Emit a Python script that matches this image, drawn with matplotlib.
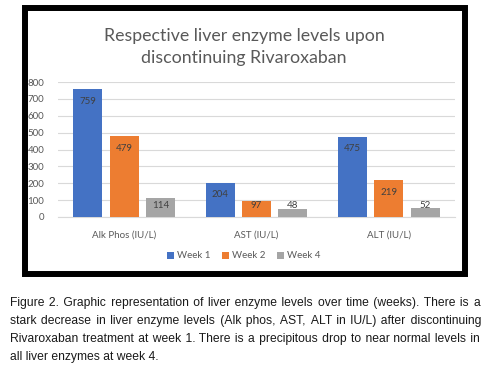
import matplotlib
matplotlib.use('Agg')
import matplotlib.pyplot as plt
import numpy as np
from matplotlib.patches import Rectangle

# data
categories = ['Alk Phos (IU/L)', 'AST (IU/L)', 'ALT (IU/L)']
series_names = ['Week 1', 'Week 2', 'Week 4']
week1 = [759, 204, 475]
week2 = [479, 97, 219]
week4 = [114, 48, 52]
yticks = [0, 100, 200, 300, 400, 500, 600, 700, 800]
colors = ['#4472C4', '#ED7D31', '#A5A5A5']

title = 'Respective liver enzyme levels upon\ndiscontinuing Rivaroxaban'
caption_lines = [
    'Figure 2. Graphic representation of liver enzyme levels over time (weeks). There is a',
    'stark decrease in liver enzyme levels (Alk phos, AST, ALT in IU/L) after discontinuing',
    'Rivaroxaban treatment at week 1. There is a precipitous drop to near normal levels in',
    'all liver enzymes at week 4.',
]

W, H = 489, 378
fig = plt.figure(figsize=(W / 100, H / 100), dpi=100)
font = ['Lato', 'DejaVu Sans']
cap_font = ['Liberation Sans Narrow', 'Liberation Sans', 'DejaVu Sans']
gray_txt = '#595959'

ax = fig.add_axes([58 / W, 1 - 217 / H, (455 - 58) / W, (217 - 82) / H])
x = np.arange(len(categories))
bw = 0.22
gap = 0.055
for i, (vals, name) in enumerate(zip([week1, week2, week4], series_names)):
    pos = x + (i - 1) * (bw + gap)
    ax.bar(pos, vals, bw, color=colors[i], label=name, zorder=3)
    for p, v in zip(pos, vals):
        ax.text(p, max(v - 72, 71), str(v), ha='center', va='center',
                fontsize=7, color='#404040', family=font, zorder=4)

ax.set_ylim(0, 800)
ax.set_xlim(-0.5, 2.5)
ax.set_yticks(yticks)
ax.set_yticklabels([str(t) for t in yticks], fontsize=7, color=gray_txt, family=font)
ax.set_xticks(x)
ax.set_xticklabels(categories, fontsize=7, color=gray_txt, family=font)
ax.tick_params(length=0, pad=10)
ax.grid(axis='y', color='#D9D9D9', linewidth=0.8, zorder=0)
for s in ['top', 'right', 'left']:
    ax.spines[s].set_visible(False)
ax.spines['bottom'].set_color('#D9D9D9')

fig.text(244 / W, 1 - 47 / H, title, ha='center', va='center', fontsize=12.8,
         color=gray_txt, family=font, linespacing=1.4)

leg = fig.legend(loc='center', bbox_to_anchor=(244 / W, 1 - 256 / H), ncol=3,
                 frameon=False, handlelength=0.7, handleheight=0.7,
                 handletextpad=0.3, columnspacing=1.2, prop={'family': font, 'size': 7})
for t in leg.get_texts():
    t.set_color(gray_txt)

# black frame around chart
fig.patches.append(Rectangle((25 / W, 1 - 274 / H), (465 - 25) / W, (274 - 8) / H,
                             transform=fig.transFigure, fill=False, edgecolor='black',
                             linewidth=4.3))

# caption: one text per line, justified by padding the gaps with hair spaces
renderer = fig.canvas.get_renderer()
left, right = 10, 480
baselines = [306, 324, 342, 360]
HAIR = '\u200a'


def text_width(s, fs):
    t = fig.text(0, 0, s, fontsize=fs, family=cap_font)
    w = t.get_window_extent(renderer).width
    t.remove()
    return w


fs = 10
while text_width(caption_lines[1], fs) > right - left - 6 and fs > 6:
    fs -= 0.25
hair_w = text_width('a' + HAIR * 10 + 'a', fs) - text_width('aa', fs)
hair_w = max(hair_w / 10, 0.3)

for k, (line, yy) in enumerate(zip(caption_lines, baselines)):
    words = line.split(' ')
    if k < len(caption_lines) - 1:
        extra = (right - left) - text_width(line, fs)
        n_gaps = len(words) - 1
        per_gap = extra / n_gaps / hair_w
        out = words[0]
        done = 0
        for g, w in enumerate(words[1:], start=1):
            need = int(round(per_gap * g)) - done
            done += need
            out += ' ' + HAIR * max(need, 0) + w
        line = out
    fig.text(left / W, 1 - yy / H, line, ha='left', va='baseline', fontsize=fs,
             color='#1a1a1a', family=cap_font)

fig.savefig('out.png', dpi=100)
